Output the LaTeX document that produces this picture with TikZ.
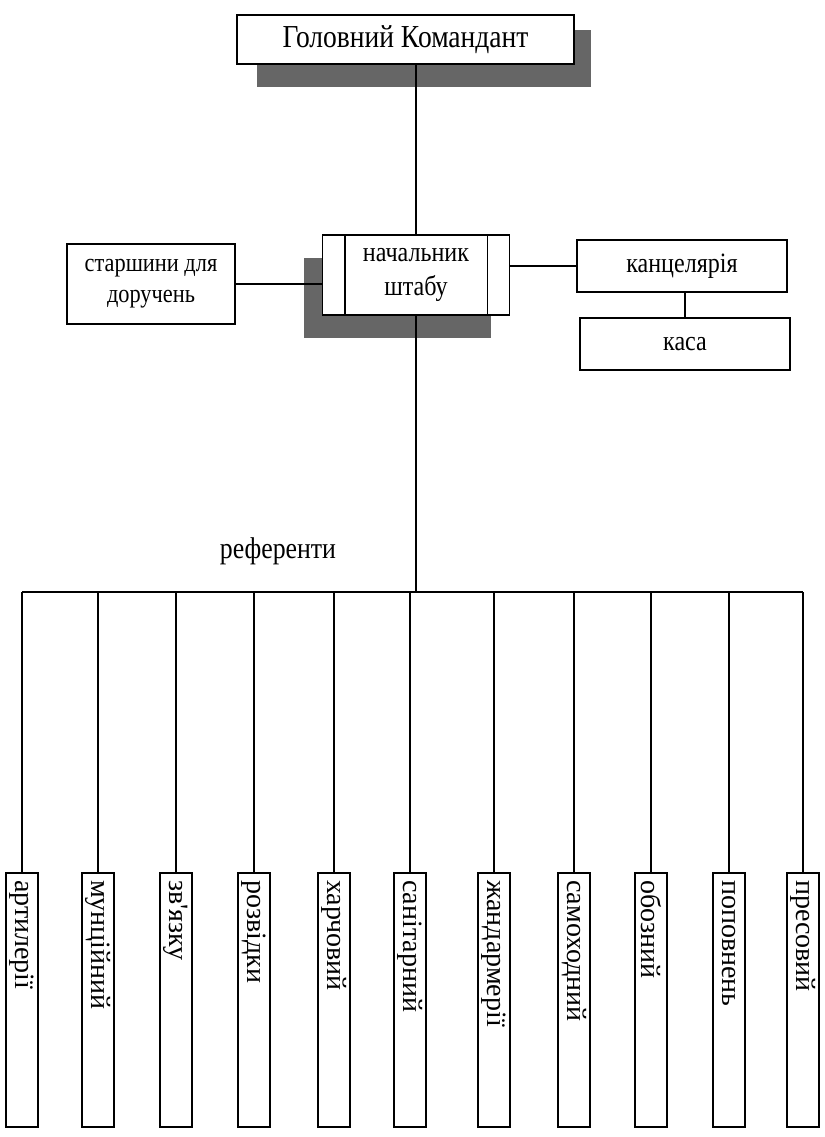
\documentclass[tikz,border=0pt]{standalone}
\usepackage{fontspec}
\setmainfont{Liberation Serif}[FakeStretch=0.86]
\newfontfamily\rotfont{Liberation Serif}
\begin{document}
\begin{tikzpicture}[x=1pt,y=-1pt,
  box/.style={draw,line width=1.5pt,fill=white,inner sep=0pt,align=center,
    font=\fontsize{28}{34}\selectfont},
  shadowfill/.style={fill=black!60},
  conn/.style={line width=1.5pt},
  refbox/.style={draw,line width=1.5pt,fill=white,inner sep=0pt,
    minimum width=32pt,minimum height=254pt,anchor=north},
  reftext/.style={rotate=-90,anchor=west,inner sep=0pt,
    font=\rotfont\fontsize{28}{34}\selectfont}]
\useasboundingbox (0,0) rectangle (824,1137);
% shadows
\fill[shadowfill] (257,30) rectangle (591,87);
\fill[shadowfill] (304,258) rectangle (491,338);
% top box
\node[box,minimum width=337pt,minimum height=49pt,font=\fontsize{32}{38}\selectfont] (top) at (405.5,39.5) {Головний Командант};
% chief of staff
\node[box,minimum width=187pt,minimum height=80pt] (nach) at (416,275) {начальник\\штабу};
\draw[conn] ([xshift=23pt]nach.north west) -- ([xshift=23pt]nach.south west);
\draw[conn] ([xshift=-23pt]nach.north east) -- ([xshift=-23pt]nach.south east);
\node[box,minimum width=168pt,minimum height=80pt,font=\fontsize{26}{31}\selectfont] (star) at (151,284) {старшини для\\доручень};
\node[box,minimum width=210pt,minimum height=52pt] (kanc) at (682,266) {канцелярія};
\node[box,minimum width=210pt,minimum height=52pt] (kasa) at (685,344) {каса};
% connectors
\draw[conn] (top.south -| nach.north) -- (nach.north);
\draw[conn] (star.east) -- (star.east -| nach.west);
\draw[conn] (kanc.west) -- (kanc.west -| nach.east);
\draw[conn] (kasa.north) -- (kasa.north |- kanc.south);
\node[font=\fontsize{30}{36}\selectfont] (reflabel) at (278,551) {референти};
\coordinate (busL) at (22,592);
\coordinate (busR) at (803,592);
\draw[conn] (nach.south) -- (nach.south |- busL);
\draw[conn] (busL) -- (busR);
\foreach \x/\t [count=\i] in {22/артилерії,98/мунційний,176/зв'язку,254/розвідки,334/харчовий,410/санітарний,494/жандармерії,574/самоходний,651/обозний,729/поповнень,803/пресовий}{
  \coordinate (d\i) at (\x,592);
  \node[refbox] (b\i) at (\x,872) {};
  \node[reftext] (t\i) at ([yshift=-8pt]b\i.north) {\t};
  \draw[conn] (d\i) -- (b\i.north);
}
\end{tikzpicture}
\end{document}
